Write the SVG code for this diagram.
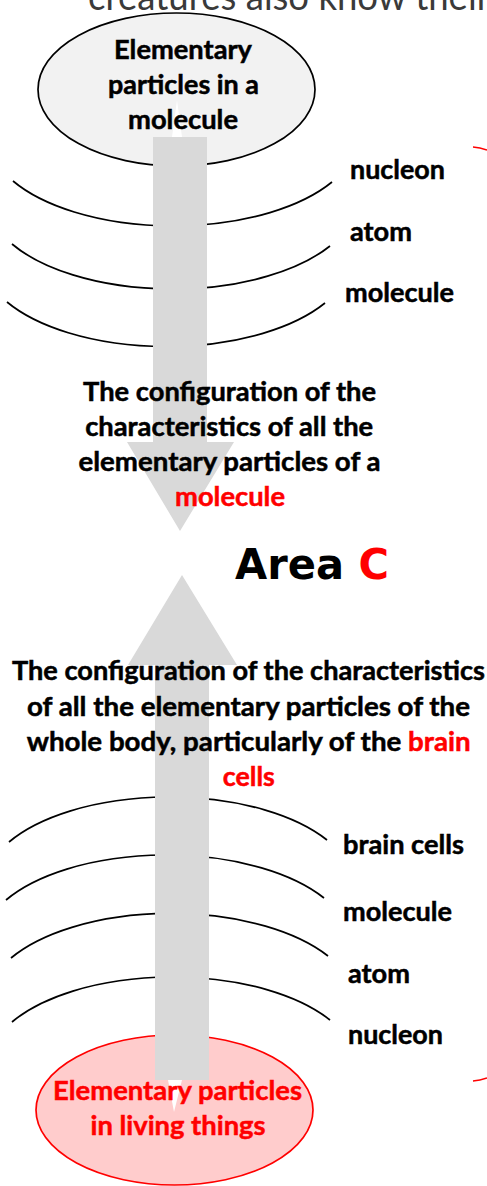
<svg xmlns="http://www.w3.org/2000/svg" width="487" height="1186" viewBox="0 0 487 1186">
<style>
.t{font-family:Lato,"Open Sans","Liberation Sans",sans-serif;font-weight:700;font-size:27px;fill:#000;stroke:#000;stroke-width:0.5}
.r{fill:#ff0000;stroke:#ff0000}
.arc{fill:none;stroke:#000;stroke-width:1.7}
.arrow{fill:#d9d9d9;stroke:none}
.spike{fill:#ffffff;stroke:none}
.redline{fill:none;stroke:#ff0000;stroke-width:1.5}
</style>
<rect width="487" height="1186" fill="#ffffff"/>
<text x="88" y="10" textLength="402" lengthAdjust="spacingAndGlyphs" style="font-family:Lato,'Open Sans',sans-serif;font-size:38px;fill:#3a3a3a">creatures also know their</text>

<g id="node-top">
<ellipse cx="176.5" cy="89.5" rx="138.5" ry="76.5" fill="#f2f2f2" stroke="#000" stroke-width="1.7"/>
</g>
<g id="node-bottom">
<ellipse cx="174.5" cy="1110" rx="138.5" ry="75" fill="#ffcccc" stroke="#ff0000" stroke-width="1.7"/>
</g>

<g id="arcs">
<path class="arc" d="M13,181 A185,90 0 0 0 332,182"/>
<path class="arc" d="M12,244 A185,90 0 0 0 330,246"/>
<path class="arc" d="M7,302 A185,90 0 0 0 325,303"/>
<path class="arc" d="M9,842 A185,90 0 0 1 327,840"/>
<path class="arc" d="M6,900 A185,90 0 0 1 324,898"/>
<path class="arc" d="M11,958 A185,90 0 0 1 328,956"/>
<path class="arc" d="M12,1022 A185,90 0 0 1 330,1020"/>
</g>

<g id="connectors">
<polygon class="arrow" points="153,137 207,137 207,442 234,442 180,531 127,442 153,442"/>
<polygon class="arrow" points="182,575 237,665 209,665 209,1080 155,1080 155,665 128,665"/>
<polygon class="spike" points="172,137 182,137 177,100"/>
<polygon class="spike" points="168,1080 182,1080 174,1112"/>
</g>

<g id="red-fragments">
<path class="redline" d="M473,147 Q480,147.5 487,150"/>
<path class="redline" d="M473,1081 Q480,1080.5 487,1078"/>
</g>

<g id="node-top-text">
<text class="t" x="183" y="59" text-anchor="middle" textLength="138" lengthAdjust="spacingAndGlyphs">Elementary</text>
<text class="t" x="183.5" y="94" text-anchor="middle" textLength="151" lengthAdjust="spacingAndGlyphs">particles in a</text>
<text class="t" x="183" y="129" text-anchor="middle" textLength="110" lengthAdjust="spacingAndGlyphs">molecule</text>
</g>

<g id="labels-top">
<text class="t" x="350" y="179" textLength="95" lengthAdjust="spacingAndGlyphs">nucleon</text>
<text class="t" x="350" y="241" textLength="62" lengthAdjust="spacingAndGlyphs">atom</text>
<text class="t" x="345" y="302" textLength="109" lengthAdjust="spacingAndGlyphs">molecule</text>
</g>

<g id="text-top-arrow">
<text class="t" x="229.6" y="401" text-anchor="middle" textLength="293" lengthAdjust="spacingAndGlyphs">The configuration of the</text>
<text class="t" x="229.2" y="436" text-anchor="middle" textLength="288" lengthAdjust="spacingAndGlyphs">characteristics of all the</text>
<text class="t" x="229.5" y="471" text-anchor="middle" textLength="302" lengthAdjust="spacingAndGlyphs">elementary particles of a</text>
<text class="t r" x="230" y="506" text-anchor="middle" textLength="110" lengthAdjust="spacingAndGlyphs">molecule</text>
</g>

<g id="area-c">
<text x="235" y="579" textLength="154" lengthAdjust="spacingAndGlyphs" style="font-family:'DejaVu Sans',Verdana,sans-serif;font-weight:700;font-size:42px;fill:#000">Area <tspan fill="#ff0000">C</tspan></text>
</g>

<g id="text-bottom-arrow">
<text class="t" x="248.5" y="680" text-anchor="middle" textLength="473" lengthAdjust="spacingAndGlyphs">The configuration of the characteristics</text>
<text class="t" x="248.5" y="716" text-anchor="middle" textLength="443" lengthAdjust="spacingAndGlyphs">of all the elementary particles of the</text>
<text class="t" x="248.7" y="751" text-anchor="middle" textLength="444" lengthAdjust="spacingAndGlyphs">whole body, particularly of the <tspan class="r">brain</tspan></text>
<text class="t r" x="248.8" y="786" text-anchor="middle" textLength="52" lengthAdjust="spacingAndGlyphs">cells</text>
</g>

<g id="labels-bottom">
<text class="t" x="343" y="854" textLength="121" lengthAdjust="spacingAndGlyphs">brain cells</text>
<text class="t" x="343" y="921" textLength="109" lengthAdjust="spacingAndGlyphs">molecule</text>
<text class="t" x="348" y="983" textLength="62" lengthAdjust="spacingAndGlyphs">atom</text>
<text class="t" x="348" y="1044" textLength="95" lengthAdjust="spacingAndGlyphs">nucleon</text>
</g>

<g id="node-bottom-text">
<text class="t r" x="177.5" y="1100" text-anchor="middle" textLength="249" lengthAdjust="spacingAndGlyphs">Elementary particles</text>
<text class="t r" x="178" y="1135" text-anchor="middle" textLength="175" lengthAdjust="spacingAndGlyphs">in living things</text>
</g>
</svg>
